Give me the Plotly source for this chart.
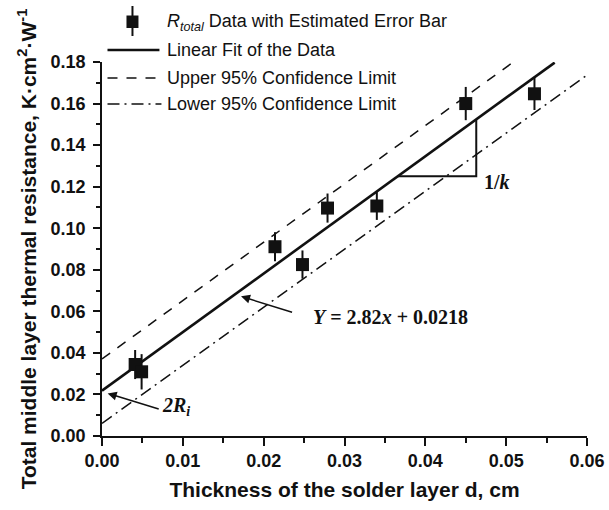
import plotly.graph_objects as go

# ---------------- data ----------------
x_data = [0.0041, 0.0049, 0.0214, 0.0248, 0.0279, 0.0340, 0.0450, 0.0535]
y_data = [0.0344, 0.0309, 0.0911, 0.0825, 0.1097, 0.1107, 0.1600, 0.1647]
y_err = [0.0070, 0.0085, 0.0070, 0.0068, 0.0070, 0.0067, 0.0080, 0.0078]

fit_slope = 2.82
fit_intercept = 0.0218
fit_x = [0.0, 0.0560]
fit_y = [fit_slope * v + fit_intercept for v in fit_x]

upper_x = [0.0, 0.0509]
upper_y = [0.0371, 0.1800]
lower_x = [0.0, 0.0600]
lower_y = [0.0061, 0.1737]

tri_x = [0.0366, 0.0463]  # slope-triangle corners (on the fit line)

x_ticks = [0.00, 0.01, 0.02, 0.03, 0.04, 0.05, 0.06]
y_ticks = [0.00, 0.02, 0.04, 0.06, 0.08, 0.10, 0.12, 0.14, 0.16, 0.18]

# ---------------- geometry helpers (layout only) ----------------
W, H = 609, 510
L, R, T, B = 101.5, 22, 62, 74
PW, PH = W - L - R, H - T - B


def px(xp):
    return (xp - L) / PW


def py(yp):
    return (H - B - yp) / PH


BLACK = "#111111"

fig = go.Figure()

# confidence limits
fig.add_trace(go.Scatter(x=upper_x, y=upper_y, mode="lines",
                         line=dict(color=BLACK, width=1.5, dash="10px,9px"),
                         name="Upper 95% Confidence Limit", showlegend=False))
fig.add_trace(go.Scatter(x=lower_x, y=lower_y, mode="lines",
                         line=dict(color=BLACK, width=1.5, dash="12px,5px,2px,5px"),
                         name="Lower 95% Confidence Limit", showlegend=False))
# linear fit
fig.add_trace(go.Scatter(x=fit_x, y=fit_y, mode="lines",
                         line=dict(color=BLACK, width=2.6),
                         name="Linear Fit of the Data", showlegend=False))
# slope triangle
tri_y0 = fit_slope * tri_x[0] + fit_intercept
tri_y1 = fit_slope * tri_x[1] + fit_intercept
fig.add_trace(go.Scatter(x=[tri_x[0], tri_x[1], tri_x[1]], y=[tri_y0, tri_y0, tri_y1],
                         mode="lines", line=dict(color=BLACK, width=2),
                         showlegend=False, hoverinfo="skip"))
# data with error bars
fig.add_trace(go.Scatter(x=x_data, y=y_data, mode="markers",
                         marker=dict(symbol="square", size=13, color=BLACK),
                         error_y=dict(type="data", array=y_err, visible=True,
                                      thickness=2, width=0, color=BLACK),
                         name="R_total Data with Estimated Error Bar", showlegend=False))

# ---------------- manual legend ----------------
legend_font = dict(family="Liberation Sans, Arial", size=18, color=BLACK)
shapes = []
# row 1: marker with error bar
shapes.append(dict(type="line", xref="paper", yref="paper",
                   x0=px(132), x1=px(132), y0=py(6), y1=py(36),
                   line=dict(color=BLACK, width=2)))
shapes.append(dict(type="rect", xref="paper", yref="paper",
                   x0=px(126), x1=px(138), y0=py(15.5), y1=py(28),
                   line=dict(width=0), fillcolor=BLACK))
# row 2: solid
shapes.append(dict(type="line", xref="paper", yref="paper",
                   x0=px(107), x1=px(159), y0=py(50), y1=py(50),
                   line=dict(color=BLACK, width=2.6)))
# row 3: dashed
shapes.append(dict(type="line", xref="paper", yref="paper",
                   x0=px(107), x1=px(156), y0=py(78), y1=py(78),
                   line=dict(color=BLACK, width=1.5, dash="10px,9px")))
# row 4: dash-dot
shapes.append(dict(type="line", xref="paper", yref="paper",
                   x0=px(107), x1=px(161), y0=py(104), y1=py(104),
                   line=dict(color=BLACK, width=1.5, dash="12px,5px,2px,5px")))

annotations = []
legend_rows = [
    ("<i>R<sub>total</sub></i> Data with Estimated Error Bar", 22),
    ("Linear Fit of the Data", 50),
    ("Upper 95% Confidence Limit", 78),
    ("Lower 95% Confidence Limit", 104),
]
for txt, yy in legend_rows:
    annotations.append(dict(text=txt, xref="paper", yref="paper", x=px(166), y=py(yy),
                            xanchor="left", yanchor="middle", showarrow=False,
                            font=legend_font, borderpad=0))

serif = dict(family="Liberation Serif, Times New Roman", size=20, color=BLACK)
# equation label + arrow
annotations.append(dict(text="<b><i>Y</i> = 2.82<i>x</i> + 0.0218</b>", x=0.0357, y=0.0574,
                        xref="x", yref="y", showarrow=False, font=serif))
annotations.append(dict(text="", x=0.0172, y=0.0672, ax=0.0237, ay=0.0593,
                        xref="x", yref="y", axref="x", ayref="y", showarrow=True,
                        arrowhead=2, arrowsize=1.2, arrowwidth=1.5, arrowcolor=BLACK, standoff=0))
# 2Ri label + arrow
annotations.append(dict(text="<b><i>2R<sub>i</sub></i></b>", x=0.0091, y=0.0140,
                        xref="x", yref="y", showarrow=False, font=serif))
annotations.append(dict(text="", x=0.0007, y=0.0205, ax=0.0072, ay=0.0128,
                        xref="x", yref="y", axref="x", ayref="y", showarrow=True,
                        arrowhead=2, arrowsize=1.2, arrowwidth=1.5, arrowcolor=BLACK, standoff=0))
# 1/k label
annotations.append(dict(text="<b>1/<i>k</i></b>", x=0.0489, y=0.1224,
                        xref="x", yref="y", showarrow=False, font=serif))

tick_font = dict(family="Liberation Sans, Arial", size=18, color=BLACK, weight="bold")
title_font = dict(family="Liberation Sans, Arial", size=21, color=BLACK, weight="bold")

fig.update_layout(
    width=W, height=H,
    margin=dict(l=L, r=R, t=T, b=B, pad=0),
    paper_bgcolor="white", plot_bgcolor="white",
    showlegend=False,
    shapes=shapes, annotations=annotations,
    xaxis=dict(range=[0, 0.06], tickvals=x_ticks, ticktext=[f"{v:.2f}" for v in x_ticks],
               showgrid=False, zeroline=False, showline=True, linecolor=BLACK, linewidth=1.5,
               ticks="outside", ticklen=8, tickwidth=1.5, tickcolor=BLACK,
               minor=dict(dtick=0.005, ticks="outside", ticklen=5, tickwidth=1.5, tickcolor=BLACK,
                          showgrid=False),
               tickfont=tick_font, automargin=False,
               title=dict(text="Thickness of the solder layer d, cm", font=title_font, standoff=12)),
    yaxis=dict(range=[0, 0.18], tickvals=y_ticks, ticktext=[f"{v:.2f}" for v in y_ticks],
               showgrid=False, zeroline=False, showline=True, linecolor=BLACK, linewidth=1.5,
               ticks="outside", ticklen=7, tickwidth=1.5, tickcolor=BLACK,
               minor=dict(dtick=0.01, ticks="outside", ticklen=4, tickwidth=1.5, tickcolor=BLACK,
                          showgrid=False),
               tickfont=tick_font, automargin=False, ticklabelstandoff=4,
               title=dict(text="Total middle layer thermal resistance, K·cm<sup>2</sup>·W<sup>-1</sup>",
                          font=title_font, standoff=8)),
)

fig.write_html("out.html", config={"displayModeBar": False},
               post_script="document.body.style.margin='0';document.body.style.padding='0';")
